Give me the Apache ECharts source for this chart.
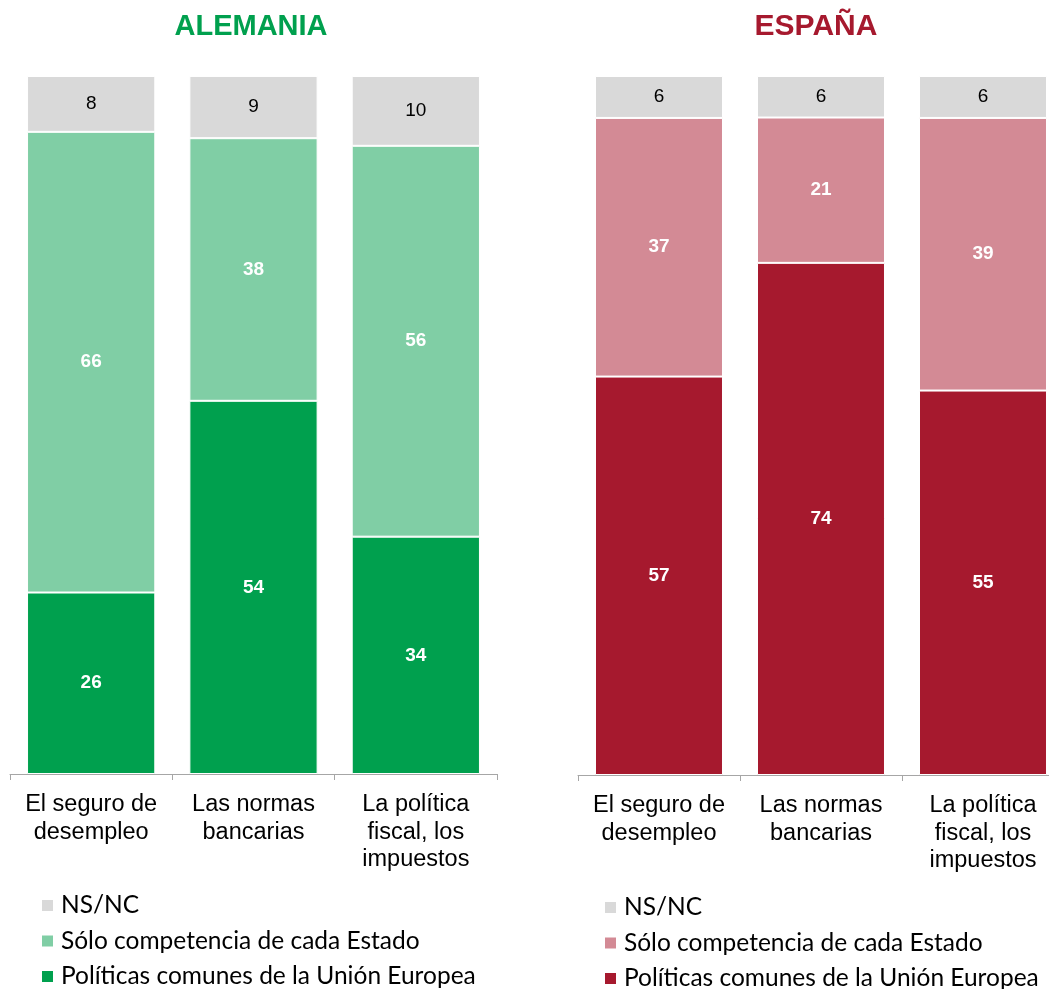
<!DOCTYPE html>
<html><head><meta charset="utf-8">
<script src="https://cdn.jsdelivr.net/npm/echarts@6/dist/echarts.min.js"></script>
<style>html,body{margin:0;padding:0;background:#fff;overflow:hidden}#c{width:1080px;height:989px}</style>
</head><body><div id="c"></div>
<script>
const categories = ['El seguro de\ndesempleo', 'Las normas\nbancarias', 'La política\nfiscal, los\nimpuestos'];
const seriesNames = ['NS/NC', 'Sólo competencia de cada Estado', 'Políticas comunes de la Unión Europea'];
const aleNSNC = [8, 9, 10];
const aleSolo = [66, 38, 56];
const aleUE = [26, 54, 34];
const espNSNC = [6, 6, 6];
const espSolo = [37, 21, 39];
const espUE = [57, 74, 55];

const colors = {
  ale: ['#D9D9D9', '#80CEA5', '#00A04E'],
  esp: ['#D9D9D9', '#D38A95', '#A6192E']
};

function share(arrs, i) {
  return arrs[i].map((v, k) => {
    const t = arrs[0][k] + arrs[1][k] + arrs[2][k];
    return { value: v / t * 100, raw: v };
  });
}

function mkSeries(prefix, arrs, idx, cols) {
  const order = [2, 1, 0];
  return order.map(i => ({
    name: prefix + i,
    type: 'bar',
    stack: prefix,
    xAxisIndex: idx, yAxisIndex: idx,
    barWidth: '79%',
    data: share(arrs, i),
    itemStyle: { color: cols[i], borderColor: '#fff', borderWidth: 1 },
    label: {
      show: true, position: 'inside',
      formatter: p => p.data.raw,
      color: i === 0 ? '#000' : '#fff',
      fontWeight: i === 0 ? 'normal' : 'bold',
      fontSize: 19, fontFamily: 'Liberation Sans'
    },
    emphasis: { disabled: true }
  }));
}

const aleArrs = [aleNSNC, aleSolo, aleUE];
const espArrs = [espNSNC, espSolo, espUE];

const xAx = idx => ({
  type: 'category', gridIndex: idx, data: categories,
  axisLine: { lineStyle: { color: '#A6A6A6', width: 1 } },
  axisTick: { show: true, length: 6, lineStyle: { color: '#A6A6A6' } },
  axisLabel: { color: '#000', fontSize: 23.5, fontFamily: 'Liberation Sans', lineHeight: 27.5, margin: 17, interval: 0 }
});
const yAx = idx => ({ type: 'value', gridIndex: idx, min: 0, max: 100, show: false });

const legendFmt = name => seriesNames[+name.slice(-1)];
const legendCommon = {
  orient: 'vertical', icon: 'rect', itemWidth: 13, itemHeight: 13, itemGap: 10.5,
  height: 120, width: 480,
  formatter: legendFmt, selectedMode: false,
  textStyle: { fontSize: 24.5, fontFamily: 'Lato', color: '#000', padding: [0, 0, 0, 2] }
};

const option = {
  animation: false,
  title: [
    { text: 'ALEMANIA', left: 246, top: 7, textAlign: 'center', textStyle: { color: '#00A04E', fontSize: 29, fontWeight: 'bold', fontFamily: 'Liberation Sans' } },
    { text: 'ESPAÑA', left: 811, top: 7, textAlign: 'center', textStyle: { color: '#A6192E', fontSize: 30, fontWeight: 'bold', fontFamily: 'Liberation Sans' } }
  ],
  grid: [
    { left: 10, top: 76, width: 487, height: 698 },
    { left: 578, top: 76, width: 486, height: 699 }
  ],
  xAxis: [xAx(0), xAx(1)],
  yAxis: [yAx(0), yAx(1)],
  legend: [
    Object.assign({}, legendCommon, { left: 35, top: 888, data: ['ale0', 'ale1', 'ale2'] }),
    Object.assign({}, legendCommon, { left: 598, top: 890, data: ['esp0', 'esp1', 'esp2'] })
  ],
  series: [].concat(mkSeries('ale', aleArrs, 0, colors.ale), mkSeries('esp', espArrs, 1, colors.esp))
};

const chart = echarts.init(document.getElementById('c'), null, { renderer: 'canvas' });
chart.setOption(option);
</script></body></html>
